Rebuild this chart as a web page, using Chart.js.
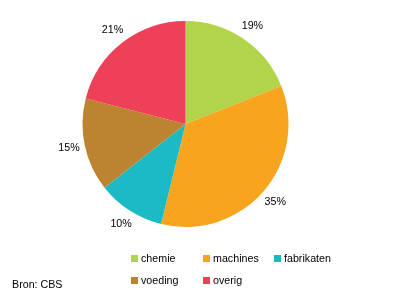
<!DOCTYPE html>
<html>
<head>
<meta charset="utf-8">
<script src="https://cdn.jsdelivr.net/npm/chart.js@4"></script>
<style>
  html, body { margin: 0; padding: 0; background: #fff; }
  #wrap { position: relative; width: 396px; height: 298px; font-family: "Liberation Sans", Arial, sans-serif; font-size: 10.7px; color: #000; }
  #pie { position: absolute; left: 0; top: 0; }
  .lg { position: absolute; line-height: 12px; white-space: nowrap; }
  .lg span { display: inline-block; width: 7px; height: 7px; margin-right: 3px; vertical-align: 0px; }
  #bron { position: absolute; left: 12px; top: 278px; }
</style>
</head>
<body>
<div id="wrap">
  <canvas id="pie" width="396" height="298"></canvas>
  <div id="legend"></div>
  <div id="bron">Bron: CBS</div>
</div>
<script>
// aandeel per productgroep (%)
const categories = ['chemie', 'machines', 'fabrikaten', 'voeding', 'overig'];
const shares = [19.0, 34.8, 10.6, 14.6, 21.0];
const pctLabels = ['19%', '35%', '10%', '15%', '21%'];
const colors = ['#b2d44a', '#f7a51e', '#1bbac5', '#bc8431', '#ee4157'];

// legenda: 3 kolommen
const legendCols = [131, 203, 274];
const legendRows = [252, 274];
const legend = document.getElementById('legend');
categories.forEach((name, i) => {
    const el = document.createElement('div');
    el.className = 'lg';
    el.style.left = legendCols[i % 3] + 'px';
    el.style.top = legendRows[Math.floor(i / 3)] + 'px';
    el.innerHTML = `<span style="background:${colors[i]}"></span>${name}`;
    legend.appendChild(el);
});

// percentages buiten de taart
const pctPlugin = {
    id: 'pct',
    afterDatasetsDraw(chart) {
        const ctx = chart.ctx;
        ctx.save();
        ctx.font = '10.7px "Liberation Sans", Arial, sans-serif';
        ctx.fillStyle = '#000';
        ctx.textAlign = 'center';
        ctx.textBaseline = 'middle';
        chart.getDatasetMeta(0).data.forEach((arc, i) => {
            const mid = (arc.startAngle + arc.endAngle) / 2;
            const r = arc.outerRadius + 16;
            ctx.fillText(pctLabels[i], arc.x + Math.cos(mid) * r, arc.y + Math.sin(mid) * r);
        });
        ctx.restore();
    }
};

new Chart(document.getElementById('pie'), {
    type: 'pie',
    data: {
        labels: categories,
        datasets: [{
            data: shares,
            backgroundColor: colors,
            borderWidth: 0,
        }]
    },
    options: {
        responsive: false,
        animation: { duration: 0 },
        layout: { padding: { left: 82, right: 107, top: 21, bottom: 71 } },
        plugins: {
            legend: { display: false },
            tooltip: { enabled: false },
        }
    },
    plugins: [pctPlugin],
});
</script>
</body>
</html>
